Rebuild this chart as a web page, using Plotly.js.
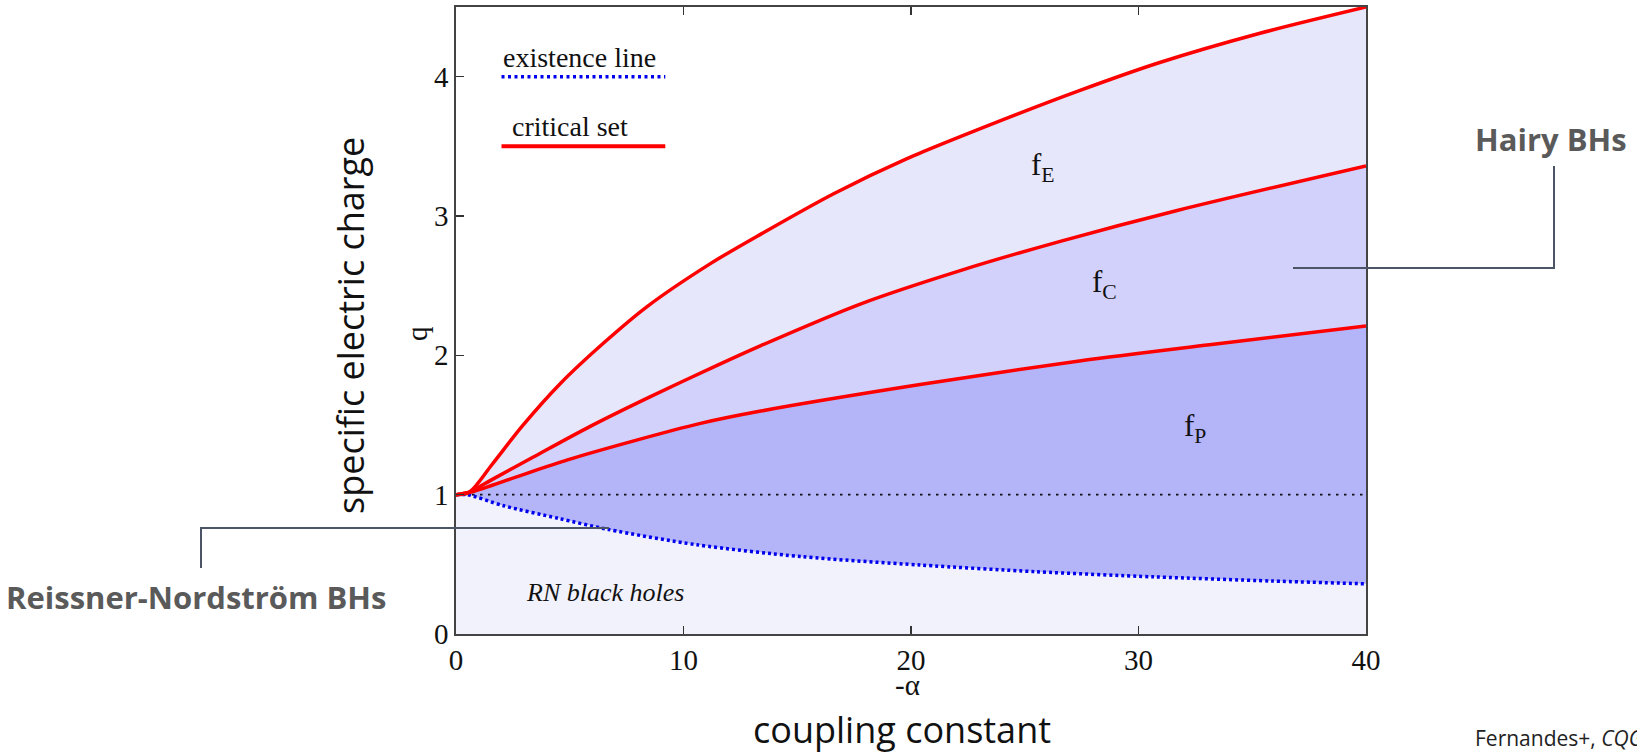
<!DOCTYPE html>
<html>
<head>
<meta charset="utf-8">
<script src="https://cdn.plot.ly/plotly-3.0.1.min.js"></script>
<style>
  html, body { margin: 0; padding: 0; background: #ffffff; }
  #chart { width: 1637px; height: 754px; }
</style>
</head>
<body>
<div id="chart"></div>
<script>
// Domain of existence of scalarised (hairy) charged black holes
// coupling  -alpha  versus  specific charge  q

// existence line (onset of scalarisation)
const alphaExist = [0, 0.5, 2.1, 4.5, 6.7, 10.6, 15.2, 20.4, 25.5, 30.7, 35.9, 40];
const qExist     = [1.0, 1.0, 0.92, 0.83, 0.75, 0.64, 0.555, 0.495, 0.447, 0.41, 0.38, 0.36];

// critical set, branch P
const alphaP = [0, 0.7, 2.7, 4.9, 7.9, 10.7, 13.4, 20.4, 27.4, 33.3, 40];
const qP     = [1.0, 1.02, 1.13, 1.25, 1.39, 1.51, 1.60, 1.79, 1.96, 2.08, 2.21];

// critical set, branch C
const alphaC = [0, 0.6, 1.6, 3.4, 5.9, 8.5, 11.5, 13.4, 17.8, 22.2, 26.6, 31.7, 40];
const qC     = [1.0, 1.02, 1.11, 1.27, 1.49, 1.70, 1.93, 2.07, 2.37, 2.61, 2.82, 3.04, 3.36];

// critical set, branch E
const alphaE = [0, 0.6, 1.6, 2.9, 4.6, 6.5, 8.4, 11.2, 13.4, 16.6, 19.8, 24.5, 27.4, 30.9, 35.3, 40];
const qE     = [1.0, 1.02, 1.22, 1.49, 1.80, 2.09, 2.35, 2.66, 2.87, 3.16, 3.41, 3.72, 3.90, 4.10, 4.31, 4.50];

// extremal RN reference line q = 1
const alphaRef = [0, 40];
const qRef     = [1, 1];

const xTicks = [0, 10, 20, 30, 40];
const yTicks = [0, 1, 2, 3, 4];

const serif = "'Liberation Serif', 'Times New Roman', serif";
const sans  = "'Open Sans', 'Noto Sans', sans-serif";

const colRN = '#f2f2fc';
const colP  = '#b4b4f9';
const colC  = '#d1d1fb';
const colE  = '#e7e7fb';
const red   = '#ff0000';
const blue  = '#0000ee';
const ink   = '#111111';

const fills = [
  { x: alphaExist, y: qExist, type: 'scatter', mode: 'lines', fill: 'tozeroy',
    fillcolor: colRN, line: { width: 0, shape: 'spline', smoothing: 0.8 }, hoverinfo: 'skip' },
  { x: alphaP, y: qP, type: 'scatter', mode: 'lines', fill: 'tonexty',
    fillcolor: colP, line: { width: 0, shape: 'spline', smoothing: 0.8 }, hoverinfo: 'skip' },
  { x: alphaC, y: qC, type: 'scatter', mode: 'lines', fill: 'tonexty',
    fillcolor: colC, line: { width: 0, shape: 'spline', smoothing: 0.8 }, hoverinfo: 'skip' },
  { x: alphaE, y: qE, type: 'scatter', mode: 'lines', fill: 'tonexty',
    fillcolor: colE, line: { width: 0, shape: 'spline', smoothing: 0.8 }, hoverinfo: 'skip' }
];

const lines = [
  { x: alphaRef, y: qRef, type: 'scatter', mode: 'lines',
    line: { color: ink, width: 1.6, dash: '2.5px,5.5px' } },
  { x: alphaExist, y: qExist, type: 'scatter', mode: 'lines',
    line: { color: blue, width: 3.5, dash: '3px,3px', shape: 'spline', smoothing: 0.8 } },
  { x: alphaP, y: qP, type: 'scatter', mode: 'lines',
    line: { color: red, width: 3.5, shape: 'spline', smoothing: 0.8 } },
  { x: alphaC, y: qC, type: 'scatter', mode: 'lines',
    line: { color: red, width: 3.5, shape: 'spline', smoothing: 0.8 } },
  { x: alphaE, y: qE, type: 'scatter', mode: 'lines',
    line: { color: red, width: 3.5, shape: 'spline', smoothing: 0.8 } }
];

// plot area in pixels: x 456..1366, y 7..634
const L = 456, R = 1366, T = 7, B = 634, W = 1637, H = 754;
const px = v => (v - L) / (R - L);
const py = v => (B - v) / (B - T);

function note(xp, yp, text, font, extra) {
  return Object.assign({ xref: 'paper', yref: 'paper', x: px(xp), y: py(yp), text: text,
    showarrow: false, xanchor: 'center', yanchor: 'middle', font: font }, extra || {});
}

const layout = {
  width: W, height: H,
  margin: { l: L, r: W - R, t: T, b: H - B, pad: 0 },
  paper_bgcolor: '#ffffff',
  plot_bgcolor: '#ffffff',
  showlegend: false,
  xaxis: {
    range: [0, 40], tickvals: xTicks, ticks: 'inside', ticklen: 8, tickwidth: 1.3,
    tickcolor: '#333', showline: true, linecolor: '#444', linewidth: 1.6,
    mirror: 'ticks', showgrid: false, zeroline: false,
    tickfont: { family: serif, size: 29, color: ink }
  },
  yaxis: {
    range: [0, 4.5], tickvals: yTicks, ticks: 'inside', ticklen: 8, tickwidth: 1.3,
    tickcolor: '#333', showline: true, linecolor: '#444', linewidth: 1.6,
    mirror: true, showgrid: false, zeroline: false,
    tickfont: { family: serif, size: 29, color: ink }
  },
  shapes: [
    // key samples
    { type: 'line', xref: 'x', yref: 'y', x0: 2.0, x1: 9.2, y0: 4.0, y1: 4.0,
      line: { color: blue, width: 3.5, dash: '3px,3.5px' } },
    { type: 'line', xref: 'x', yref: 'y', x0: 2.0, x1: 9.2, y0: 3.5, y1: 3.5,
      line: { color: red, width: 4 } },
    // callout for hairy black holes
    { type: 'path', xref: 'paper', yref: 'paper', layer: 'above',
      path: `M ${px(1293)} ${py(268)} L ${px(1554)} ${py(268)} L ${px(1554)} ${py(166)}`,
      line: { color: '#4b5566', width: 2 } },
    // callout for Reissner-Nordström black holes
    { type: 'path', xref: 'paper', yref: 'paper', layer: 'above',
      path: `M ${px(609)} ${py(528)} L ${px(201)} ${py(528)} L ${px(201)} ${py(568)}`,
      line: { color: '#4b5566', width: 2 } }
  ],
  annotations: [
    // axis symbols
    note(907, 685, '-α', { family: serif, size: 29, color: ink }),
    note(417, 334, 'q', { family: serif, size: 29, color: ink }, { textangle: -90 }),
    // key
    { xref: 'x', yref: 'y', x: 5.45, y: 4.14, text: 'existence line', showarrow: false,
      xanchor: 'center', yanchor: 'middle', font: { family: serif, size: 28, color: ink } },
    { xref: 'x', yref: 'y', x: 5.0, y: 3.64, text: 'critical set', showarrow: false,
      xanchor: 'center', yanchor: 'middle', font: { family: serif, size: 28, color: ink } },
    // region labels
    { xref: 'x', yref: 'y', x: 25.8, y: 3.35, text: 'f<sub>E</sub>', showarrow: false,
      xanchor: 'center', yanchor: 'middle', font: { family: serif, size: 31, color: ink } },
    { xref: 'x', yref: 'y', x: 28.5, y: 2.51, text: 'f<sub>C</sub>', showarrow: false,
      xanchor: 'center', yanchor: 'middle', font: { family: serif, size: 31, color: ink } },
    { xref: 'x', yref: 'y', x: 32.5, y: 1.48, text: 'f<sub>P</sub>', showarrow: false,
      xanchor: 'center', yanchor: 'middle', font: { family: serif, size: 31, color: ink } },
    { xref: 'x', yref: 'y', x: 3.0, y: 0.30, xanchor: 'left', yanchor: 'middle',
      text: '<i>RN black holes</i>', showarrow: false,
      font: { family: serif, size: 26, color: ink } },
    // outer titles
    note(350, 326, 'specific electric charge', { family: sans, size: 36, color: ink }, { textangle: -90 }),
    note(902, 729, 'coupling constant', { family: sans, size: 36, color: ink }),
    note(1551, 139, '<b>Hairy BHs</b>', { family: sans, size: 31, color: '#5a5a5a' }),
    note(196, 597, '<b>Reissner-Nordström BHs</b>', { family: sans, size: 31, color: '#5a5a5a' }),
    note(1473, 738, 'Fernandes+, <i>CQG</i> <b>36</b>', { family: sans, size: 21, color: '#222' },
      { xanchor: 'left' })
  ]
};

Plotly.newPlot('chart', fills.concat(lines), layout, { staticPlot: true, displayModeBar: false });
</script>
</body>
</html>
